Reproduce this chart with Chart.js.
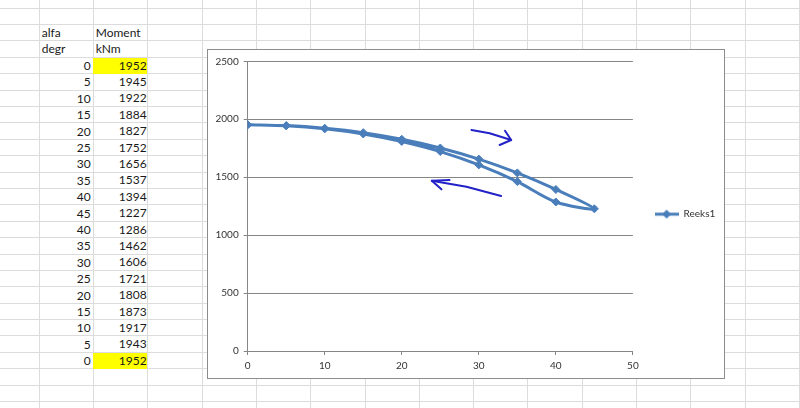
<!DOCTYPE html>
<html>
<head>
<meta charset="utf-8">
<script src="https://cdn.jsdelivr.net/npm/chart.js@4/dist/chart.umd.min.js"></script>
<style>
  html, body { margin: 0; padding: 0; background: #fff; }
  body { width: 800px; height: 408px; position: relative; overflow: hidden; font-family: Lato, "Open Sans", sans-serif; }
  .gl { position: absolute; background: #dcdcdc; }
  .cell { position: absolute; font-size: 12px; color: #1a1a1a; line-height: 16px; white-space: nowrap; }
  .num { text-align: right; }
  .hl { background: #ffff00; }
  #box { position: absolute; left: 207px; top: 49px; width: 518px; height: 330px; box-sizing: border-box; border: 1px solid #8c8c8c; background: #fff; }
  #chart { display: block; }
</style>
</head>
<body>
<div id="box"><canvas id="chart" width="516" height="328"></canvas></div>
<script>
// table and chart data
const alfa   = [0, 5, 10, 15, 20, 25, 30, 35, 40, 45, 40, 35, 30, 25, 20, 15, 10, 5, 0];
const moment = [1952, 1945, 1922, 1884, 1827, 1752, 1656, 1537, 1394, 1227, 1286, 1462, 1606, 1721, 1808, 1873, 1917, 1943, 1952];
const headers = [['alfa', 'Moment'], ['degr', 'kNm']];
const seriesName = 'Reeks1';
const xTicks = [0, 10, 20, 30, 40, 50];
const yTicks = [0, 500, 1000, 1500, 2000, 2500];

// hand drawn arrows (in data units)
const arrowOut  = [[29.05, 1907], [31.4, 1879], [34.2, 1821]];
const arrowOutHead = [[33.4, 1901], [34.2, 1821], [32.7, 1778]];
const arrowBack = [[32.9, 1337], [28.4, 1418], [23.9, 1470]];
const arrowBackHead = [[26.2, 1476], [23.9, 1470], [25.15, 1395]];

const lineColor = '#4a7ebb';

// spreadsheet grid
const colW = 54.3, rowH = 16.4;
for (let x = 38.7; x < 800; x += colW) {
  const d = document.createElement('div');
  d.className = 'gl';
  d.style.cssText = `left:${Math.round(x)}px;top:0;width:1px;height:408px`;
  document.body.insertBefore(d, document.body.firstChild);
}
for (let y = 56.7 - 3 * rowH; y < 408; y += rowH) {
  const d = document.createElement('div');
  d.className = 'gl';
  d.style.cssText = `left:0;top:${Math.round(y)}px;width:800px;height:1px`;
  document.body.insertBefore(d, document.body.firstChild);
}

function cell(text, left, top, width, cls) {
  const d = document.createElement('div');
  d.className = 'cell ' + (cls || '');
  d.style.cssText = `left:${left}px;top:${top}px;width:${width}px;height:${Math.round(rowH)}px`;
  d.textContent = text;
  document.body.insertBefore(d, document.getElementById('box'));
}

const colB = 39.7, colC = 93.7, firstRow = 57.5;
headers.forEach((h, i) => {
  const top = firstRow - (2 - i) * rowH;
  cell(h[0], colB + 2, top, 50);
  cell(h[1], colC + 2, top, 50);
});
alfa.forEach((a, i) => {
  const top = firstRow + i * rowH;
  cell(a, colB, top + 0.5, 51, 'num');
  const hl = (i === 0 || i === alfa.length - 1) ? ' hl' : '';
  cell(moment[i], colC - 0.5, top, 53.5, 'num' + hl);
});

// legend marker: line with diamond
const marker = document.createElement('canvas');
marker.width = 24; marker.height = 10;
const m = marker.getContext('2d');
m.strokeStyle = lineColor; m.lineWidth = 3;
m.beginPath(); m.moveTo(0, 5); m.lineTo(24, 5); m.stroke();
m.fillStyle = lineColor;
m.beginPath(); m.moveTo(12, 0.5); m.lineTo(16.5, 5); m.lineTo(12, 9.5); m.lineTo(7.5, 5); m.closePath(); m.fill();

const arrowPlugin = {
  id: 'arrows',
  afterDatasetsDraw(chart) {
    const { ctx, scales: { x, y } } = chart;
    const path = pts => {
      ctx.beginPath();
      pts.forEach((p, i) => {
        const px = x.getPixelForValue(p[0]), py = y.getPixelForValue(p[1]);
        if (i === 0) ctx.moveTo(px, py); else ctx.lineTo(px, py);
      });
      ctx.stroke();
    };
    ctx.save();
    ctx.strokeStyle = '#2222c8';
    ctx.lineWidth = 2;
    ctx.lineCap = 'round';
    ctx.lineJoin = 'round';
    [arrowOut, arrowOutHead, arrowBack, arrowBackHead].forEach(path);
    ctx.restore();
  }
};

const axisFont = { family: 'Lato, "Open Sans", sans-serif', size: 10 };

new Chart(document.getElementById('chart'), {
  type: 'line',
  data: {
    datasets: [{
      label: seriesName,
      data: alfa.map((a, i) => ({ x: a, y: moment[i] })),
      borderColor: lineColor,
      backgroundColor: lineColor,
      borderWidth: 3,
      tension: 0.3,
      pointStyle: 'rectRot',
      pointRadius: 4,
      pointBorderWidth: 1,
      fill: false
    }]
  },
  options: {
    responsive: false,
    animation: false,
    layout: { padding: { left: 5.7, top: 11.3, right: -1.3, bottom: 0 } },
    scales: {
      x: {
        type: 'linear',
        min: 0, max: 50,
        afterBuildTicks: s => { s.ticks = xTicks.map(v => ({ value: v })); },
        afterFit: s => { s.height = 27; },
        grid: { drawOnChartArea: false, drawTicks: true, tickLength: 4, color: '#868686' },
        border: { color: '#868686' },
        ticks: { font: axisFont, color: '#333', padding: 5, callback: v => String(v) }
      },
      y: {
        min: 0, max: 2500,
        afterBuildTicks: s => { s.ticks = yTicks.map(v => ({ value: v })); },
        afterFit: s => { s.width = 34; },
        grid: { color: '#868686', tickLength: 4 },
        border: { color: '#868686' },
        ticks: { font: axisFont, color: '#333', padding: 5, callback: v => String(v) }
      }
    },
    plugins: {
      legend: {
        position: 'right',
        fullSize: false,
        title: { display: true, text: ' ', font: { size: 10 }, padding: 2 },
        labels: {
          usePointStyle: true,
          pointStyle: marker,
          pointStyleWidth: 24,
          padding: 21.7,
          font: axisFont,
          color: '#333'
        }
      },
      tooltip: { enabled: false }
    }
  },
  plugins: [arrowPlugin]
});
</script>
</body>
</html>
